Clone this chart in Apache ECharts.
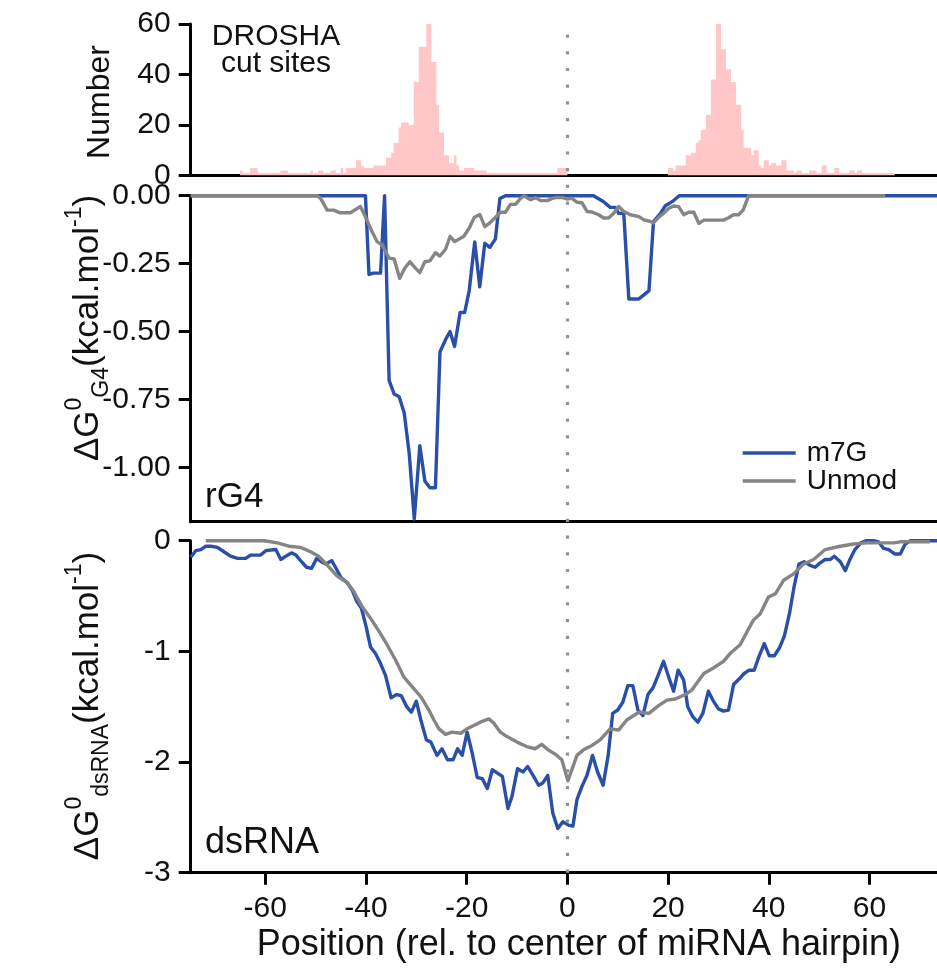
<!DOCTYPE html>
<html>
<head>
<meta charset="utf-8">
<script src="https://cdn.jsdelivr.net/npm/echarts@6/dist/echarts.min.js"></script>
<style>
html,body{margin:0;padding:0;background:#fff}
#chart{width:937px;height:978px}
</style>
</head>
<body>
<div id="chart"></div>
<script>
// ---- data ----
var xTicks = [-60, -40, -20, 0, 20, 40, 60];
var histTicks = [0, 20, 40, 60];
var g4Ticks = [0, -0.25, -0.5, -0.75, -1];
var dsTicks = [0, -1, -2, -3];

// DROSHA cut sites: [bin start, count], 0.5 nt bins, count holds until next entry
var droshaCuts = [
  [-65, 2], [-64.5, 1], [-63, 3], [-61.5, 1], [-57, 2], [-55.5, 1], [-51, 2], [-50.5, 1],
  [-49.5, 2], [-48.5, 1], [-47, 2], [-46, 1], [-45, 3], [-44.5, 1], [-44, 3], [-42, 6],
  [-41, 4], [-40.5, 3], [-38.5, 4], [-36, 7], [-35, 9], [-34.5, 13], [-33.5, 19], [-33, 21],
  [-31.5, 20], [-30.5, 37], [-29.5, 51], [-28, 61], [-27.5, 61], [-27, 45], [-26, 28],
  [-25.5, 17], [-24.5, 8], [-23.5, 5], [-22.5, 8], [-22, 4], [-21.5, 2], [-20.5, 3],
  [-18.5, 2], [-16, 1], [-2, 3], [0, 0],
  [20, 3], [21, 2], [21.5, 4], [23.5, 8], [24.5, 9], [25.5, 13], [26, 14], [26.5, 18],
  [27.5, 24], [28.5, 38], [29.5, 61], [30.5, 50], [31.5, 42], [32.5, 37], [33.5, 28],
  [34.5, 18], [35, 11], [36.5, 8], [37, 10], [38, 4], [38.5, 3], [39, 6], [40, 4],
  [40.5, 5], [41.5, 4], [42.5, 6], [43.5, 2], [45, 1], [45.5, 2], [46.5, 1], [48, 2],
  [49.5, 1], [50.5, 4], [51.5, 1], [53, 3], [54, 1], [56, 2], [57, 1], [57.5, 2],
  [58.5, 1], [65, 0]
];

// rG4 panel: [position, dG]
var g4M7G = [
  [-74.8, 0], [-40.1, 0], [-39.4, -0.29], [-38.5, -0.285], [-37.1, -0.285], [-36.3, 0],
  [-35.4, -0.68], [-34.4, -0.73], [-33.4, -0.74], [-32.4, -0.80], [-31.4, -0.95],
  [-30.4, -1.19], [-29.3, -0.92], [-28.3, -1.05], [-27.3, -1.075], [-26.2, -1.075],
  [-25.3, -0.575], [-24.2, -0.53], [-23.3, -0.50], [-22.4, -0.555], [-21.3, -0.43],
  [-20.4, -0.43], [-19.5, -0.35], [-18.4, -0.17], [-17.4, -0.335], [-16.4, -0.175],
  [-15.4, -0.19], [-14.3, -0.16], [-13.4, -0.01], [-12.3, 0], [5.2, 0], [7.2, -0.022],
  [8.5, -0.043], [9.5, -0.043], [10.2, -0.065], [11.2, -0.065], [12.2, -0.38],
  [14.2, -0.38], [15.2, -0.365], [16.2, -0.35], [17.1, -0.095], [18.5, -0.065],
  [19.4, -0.038], [20.8, -0.022], [22.2, 0], [73.4, 0]
];
var g4Unmod = [
  [-74.8, 0], [-49.7, 0], [-49.0, -0.01], [-47.7, -0.053], [-46.4, -0.053], [-45.1, -0.063],
  [-43.1, -0.063], [-41.1, -0.04], [-40.1, -0.077], [-38.8, -0.132], [-37.8, -0.169],
  [-36.8, -0.181], [-35.4, -0.23], [-34.4, -0.233], [-33.3, -0.304], [-32.3, -0.267],
  [-31.3, -0.243], [-30.3, -0.264], [-29.3, -0.283], [-28.3, -0.243], [-27.3, -0.24],
  [-26.2, -0.21], [-25.3, -0.222], [-24.2, -0.197], [-23.3, -0.15], [-22.4, -0.169],
  [-20.6, -0.15], [-19.5, -0.12], [-18.5, -0.08], [-17.4, -0.069], [-16.4, -0.114],
  [-15.4, -0.10], [-14.3, -0.08], [-13.3, -0.061], [-12.3, -0.061], [-11.3, -0.032],
  [-10.3, -0.032], [-9.3, -0.01], [-8.6, 0], [-7.3, -0.015], [-6.3, -0.007], [-5.3, -0.018],
  [-4.0, -0.018], [-3.0, -0.01], [-2.0, -0.006], [-1.0, -0.007], [-0.1, -0.012],
  [0.9, -0.01], [1.9, -0.024], [2.9, -0.026], [3.9, -0.058], [4.9, -0.06], [6.2, -0.07],
  [7.2, -0.082], [8.2, -0.082], [9.2, -0.065], [10.2, -0.04], [11.2, -0.058], [12.5, -0.07],
  [14.2, -0.077], [15.2, -0.089], [16.2, -0.093], [17.1, -0.10], [18.1, -0.08],
  [19.1, -0.065], [20.1, -0.047], [21.1, -0.038], [22.1, -0.04], [23.1, -0.07],
  [24.1, -0.061], [25.1, -0.061], [26.1, -0.102], [27.1, -0.09], [29.0, -0.09],
  [31.0, -0.09], [32.0, -0.081], [33.0, -0.07], [34.0, -0.07], [34.9, -0.053], [36.0, 0],
  [63.1, 0]
];

// dsRNA panel: [position, dG]
var dsM7G = [
  [-74.8, -0.15], [-73.8, -0.09], [-72.8, -0.08], [-71.8, -0.05], [-70.8, -0.05], [-69.5, -0.06],
  [-68.2, -0.10], [-66.9, -0.14], [-65.5, -0.16], [-63.9, -0.16], [-62.9, -0.13], [-60.9, -0.13],
  [-59.9, -0.09], [-57.9, -0.08], [-56.9, -0.17], [-55.9, -0.14], [-54.8, -0.11], [-53.9, -0.13],
  [-52.8, -0.19], [-51.8, -0.24], [-50.8, -0.25], [-49.8, -0.16], [-48.9, -0.19], [-48.0, -0.21],
  [-46.8, -0.18], [-45.8, -0.26], [-45.0, -0.33], [-43.7, -0.38], [-42.7, -0.45], [-41.8, -0.55],
  [-40.9, -0.61], [-40.0, -0.77], [-39.1, -0.96], [-38.1, -1.02], [-37.1, -1.11], [-36.1, -1.22],
  [-35.0, -1.42], [-33.9, -1.39], [-33.0, -1.40], [-31.9, -1.50], [-31.0, -1.55], [-30.0, -1.45],
  [-29.1, -1.62], [-28.0, -1.80], [-27.1, -1.82], [-25.9, -1.94], [-24.9, -1.88], [-23.8, -1.98],
  [-22.7, -1.98], [-21.8, -1.88], [-20.9, -1.94], [-19.9, -1.73], [-18.9, -1.92], [-17.9, -2.14],
  [-16.9, -2.15], [-15.9, -2.24], [-14.9, -2.07], [-13.9, -2.10], [-12.9, -2.13], [-11.8, -2.42],
  [-11.0, -2.31], [-9.9, -2.06], [-8.8, -2.09], [-7.9, -2.04], [-6.7, -2.13], [-5.7, -2.21],
  [-4.9, -2.19], [-3.9, -2.12], [-2.9, -2.46], [-1.9, -2.60], [-0.9, -2.54], [0.2, -2.57],
  [1.1, -2.58], [1.9, -2.34], [2.9, -2.22], [3.9, -2.12], [5.0, -1.94], [6.0, -2.09],
  [7.1, -2.21], [8.1, -1.94], [9.0, -1.56], [10.0, -1.53], [11.0, -1.46], [12.0, -1.31],
  [13.0, -1.31], [14.0, -1.53], [15.0, -1.58], [16.0, -1.39], [17.0, -1.33], [18.0, -1.22],
  [19.1, -1.09], [20.1, -1.23], [21.1, -1.36], [22.0, -1.17], [23.1, -1.26], [23.9, -1.50],
  [24.9, -1.59], [25.9, -1.64], [26.9, -1.56], [28.0, -1.36], [29.0, -1.45], [30.0, -1.52],
  [31.0, -1.54], [32.0, -1.53], [33.0, -1.30], [34.1, -1.25], [35.1, -1.20], [36.1, -1.17],
  [37.1, -1.17], [38.1, -1.04], [39.1, -0.93], [40.1, -1.04], [41.1, -1.04], [42.1, -0.97],
  [43.1, -0.86], [44.1, -0.66], [45.0, -0.42], [46.0, -0.21], [47.0, -0.19], [48.1, -0.22],
  [49.2, -0.24], [50.2, -0.20], [51.2, -0.17], [52.2, -0.17], [53.0, -0.14], [54.2, -0.19],
  [55.2, -0.27], [56.1, -0.17], [57.1, -0.08], [58.3, -0.02], [59.3, 0], [60.8, 0],
  [61.8, -0.01], [62.8, -0.07], [63.8, -0.08], [65.0, -0.12], [66.1, -0.12], [67.1, -0.03],
  [68.1, 0], [73.4, 0]
];
var dsUnmod = [
  [-71.8, 0], [-60.2, 0], [-57.6, -0.02], [-55.3, -0.05], [-53.0, -0.06], [-51.0, -0.10],
  [-49.4, -0.14], [-47.7, -0.22], [-45.7, -0.32], [-43.7, -0.38], [-42.4, -0.46], [-40.7, -0.60],
  [-39.1, -0.70], [-37.4, -0.82], [-35.8, -0.94], [-34.1, -1.08], [-32.5, -1.23], [-30.8, -1.32],
  [-29.1, -1.41], [-27.5, -1.53], [-26.5, -1.62], [-25.5, -1.70], [-24.2, -1.75], [-22.9, -1.73],
  [-21.2, -1.74], [-19.9, -1.70], [-18.6, -1.67], [-17.3, -1.64], [-15.6, -1.61], [-14.6, -1.65],
  [-13.3, -1.73], [-12.0, -1.77], [-10.0, -1.82], [-8.1, -1.86], [-6.4, -1.88], [-5.1, -1.84],
  [-3.8, -1.89], [-2.4, -1.93], [-1.1, -1.98], [0.1, -2.17], [1.9, -1.94], [3.2, -1.89],
  [4.9, -1.85], [6.5, -1.80], [8.5, -1.70], [10.2, -1.71], [11.8, -1.62], [14.2, -1.55],
  [16.2, -1.56], [18.1, -1.49], [19.8, -1.44], [21.4, -1.43], [23.4, -1.39], [24.7, -1.35],
  [27.1, -1.20], [29.0, -1.15], [31.0, -1.09], [32.3, -1.02], [34.3, -0.94], [36.9, -0.72],
  [38.3, -0.66], [39.9, -0.51], [41.3, -0.48], [42.9, -0.36], [44.9, -0.30], [46.9, -0.21],
  [48.9, -0.17], [51.2, -0.08], [54.2, -0.05], [56.8, -0.03], [59.4, -0.02], [64.8, -0.02],
  [66.1, -0.01], [72.0, -0.01]
];

var xMin = -74.8, xMax = 73.4;
var BLUE = '#2a4fa8', GREY = '#858585', PINK = '#ffc7c7', INK = '#111';
var FONT = '"Liberation Sans", Arial, Helvetica, sans-serif';

var chart = echarts.init(document.getElementById('chart'));

function xAxisFor(gi, withLabels) {
  var ax = {
    gridIndex: gi, type: 'value', min: xMin, max: xMax,
    axisLine: {show: true, onZero: false, lineStyle: {color: '#000', width: 3}},
    axisTick: {show: withLabels, length: 12, customValues: xTicks, lineStyle: {color: '#000', width: 3}},
    axisLabel: {show: withLabels, customValues: xTicks, fontSize: 30, margin: 21, color: INK, fontFamily: FONT},
    splitLine: {show: false}
  };
  if (withLabels) {
    ax.name = 'Position (rel. to center of miRNA hairpin)';
    ax.nameLocation = 'middle';
    ax.nameGap = 54;
    ax.nameTextStyle = {fontSize: 36, color: INK, fontFamily: FONT, padding: [0, 0, 0, 30]};
  }
  return ax;
}

function yAxisFor(gi, min, max, ticks, fmt) {
  return {
    gridIndex: gi, type: 'value', min: min, max: max,
    axisLine: {show: true, onZero: false, lineStyle: {color: '#000', width: 3}},
    axisTick: {show: true, length: 12, customValues: ticks, lineStyle: {color: '#000', width: 3}},
    axisLabel: {customValues: ticks, fontSize: 30, margin: 20, color: INK, fontFamily: FONT, formatter: fmt},
    splitLine: {show: false}
  };
}

function lineSeries(name, xi, data, color) {
  return {
    name: name, type: 'line', xAxisIndex: xi, yAxisIndex: xi, data: data,
    symbol: 'none', clip: false, z: 3, silent: true,
    lineStyle: {color: color, width: 3.4, join: 'round'}, itemStyle: {color: color}
  };
}

var axisTitleRich = {
  t: {fontSize: 35, fontFamily: FONT, fill: INK, color: INK, lineHeight: 50, verticalAlign: 'middle'},
  sup: {fontSize: 23, fontFamily: FONT, fill: INK, color: INK, lineHeight: 23, verticalAlign: 'top'},
  sub: {fontSize: 23, fontFamily: FONT, fill: INK, color: INK, lineHeight: 23, verticalAlign: 'bottom'}
};

var option = {
  animation: false,
  backgroundColor: '#fff',
  textStyle: {fontFamily: FONT},
  grid: [
    {left: 190.7, right: 0, top: 24, height: 151.5},
    {left: 190.7, right: 0, top: 195.7, height: 326},
    {left: 190.7, right: 0, top: 540.7, height: 332},
    {left: 190.7, right: 0, top: 24, height: 848.7}
  ],
  xAxis: [
    xAxisFor(0, false),
    xAxisFor(1, false),
    xAxisFor(2, true),
    {gridIndex: 3, type: 'value', min: xMin, max: xMax, show: false}
  ],
  yAxis: [
    yAxisFor(0, 0, 60, histTicks),
    yAxisFor(1, -1.2, 0, g4Ticks, function (v) { return v.toFixed(2); }),
    yAxisFor(2, -3, 0, dsTicks),
    {gridIndex: 3, type: 'value', min: 0, max: 1, show: false}
  ],
  legend: {
    data: [{name: 'm7G', icon: 'rect'}, {name: 'Unmod', icon: 'rect'}],
    orient: 'vertical', left: 742.7, top: 439, padding: 0,
    itemGap: 0, itemWidth: 53, itemHeight: 3.6, selectedMode: false,
    textStyle: {fontSize: 28, lineHeight: 27.5, color: INK, fontFamily: FONT, padding: [0, 0, 0, 6]}
  },
  series: [
    {
      name: 'DROSHA cut sites', type: 'line', step: 'end', xAxisIndex: 0, yAxisIndex: 0,
      data: droshaCuts, symbol: 'none', silent: true, z: 2,
      lineStyle: {width: 0, color: PINK}, areaStyle: {color: PINK, opacity: 1}
    },
    {
      name: 'centre', type: 'line', xAxisIndex: 3, yAxisIndex: 3, data: [], z: 1, silent: true,
      markLine: {
        silent: true, symbol: 'none', label: {show: false},
        lineStyle: {color: '#939393', width: 3.2, type: [3.2, 13.5], cap: 'butt'},
        data: [{xAxis: 0}]
      }
    },
    lineSeries('m7G', 1, g4M7G, BLUE),
    lineSeries('Unmod', 1, g4Unmod, GREY),
    lineSeries('m7G', 2, dsM7G, BLUE),
    lineSeries('Unmod', 2, dsUnmod, GREY)
  ],
  graphic: [
    {type: 'text', x: 276, y: 50, silent: true,
     style: {text: 'DROSHA\ncut sites', fontSize: 30, fontFamily: FONT, fill: INK, align: 'center', verticalAlign: 'middle', lineHeight: 27}},
    {type: 'text', x: 205, y: 497, silent: true,
     style: {text: 'rG4', fontSize: 35, fontFamily: FONT, fill: INK, align: 'left', verticalAlign: 'middle'}},
    {type: 'text', x: 205, y: 843, silent: true,
     style: {text: 'dsRNA', fontSize: 36, fontFamily: FONT, fill: INK, align: 'left', verticalAlign: 'middle'}},
    {type: 'text', x: 100, y: 102, rotation: Math.PI / 2, silent: true,
     style: {text: 'Number', fontSize: 32, fontFamily: FONT, fill: INK, align: 'center', verticalAlign: 'middle'}},
    {type: 'text', x: 88, y: 328, rotation: Math.PI / 2, silent: true,
     style: {text: '{t|ΔG}{sup|0}{sub|G4}{t|(kcal.mol}{sup|-1}{t|)}', rich: axisTitleRich, align: 'center', verticalAlign: 'middle'}},
    {type: 'text', x: 88, y: 706, rotation: Math.PI / 2, silent: true,
     style: {text: '{t|ΔG}{sup|0}{sub|dsRNA}{t|(kcal.mol}{sup|-1}{t|)}', rich: axisTitleRich, align: 'center', verticalAlign: 'middle'}}
  ]
};

chart.setOption(option);
window.onresize = function () { chart.resize(); };
</script>
</body>
</html>
